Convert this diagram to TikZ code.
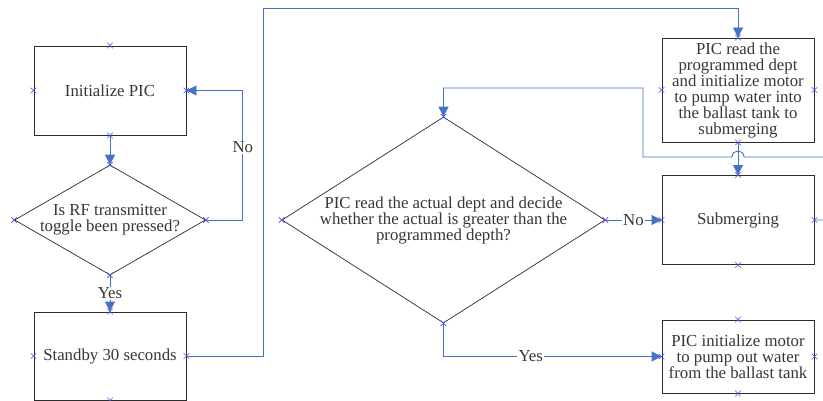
\documentclass[tikz,border=0pt]{standalone}
\usepackage{fontspec}
\setmainfont{Liberation Serif}
\usetikzlibrary{shapes.geometric, shapes.misc, arrows.meta, calc}
\definecolor{linkblue}{RGB}{68,114,196}
\definecolor{markblue}{RGB}{80,80,235}
\definecolor{boxgray}{RGB}{45,45,45}
\definecolor{txtgray}{RGB}{55,55,55}

\begin{document}
\begin{tikzpicture}[x=1pt, y=-1pt,
    font=\fontsize{16.8}{16}\selectfont, text=txtgray,
    box/.style={draw=boxgray, line width=0.9pt, rectangle, minimum width=152pt, align=center, inner sep=0pt},
    decision/.style={draw=boxgray, line width=0.7pt, diamond, inner sep=0pt},
    link/.style={draw=linkblue, line width=0.9pt, -{Triangle[length=10pt,width=10pt]}},
    cpoint/.style={draw=markblue, cross out, minimum size=5pt, inner sep=0pt, line width=0.6pt},
    lbl/.style={fill=white, inner sep=1pt}]
    \clip (0,0) rectangle (823,401);
    \fill[white] (0,0) rectangle (823,401);

    \node[box, minimum height=89pt] (init) at (110,90.5) {Initialize PIC};
    \node[decision, minimum width=191pt, minimum height=110pt,
          label={[align=center]center:Is RF transmitter\\toggle been pressed?}] (rfq) at (110,220) {};
    \node[box, minimum height=88pt] (standby) at (110,356) {Standby 30 seconds};

    \node[box, minimum height=104pt] (pumpin) at (738,90) {PIC read the\\programmed dept\\and initialize motor\\to pump water into\\the ballast tank to\\submerging};
    \node[box, minimum height=89pt] (subm) at (738,220) {Submerging};
    \node[box, minimum height=73pt] (pumpout) at (738,356.5) {PIC initialize motor\\to pump out water\\from the ballast tank};
    \node[decision, minimum width=323pt, minimum height=206pt,
          label={[align=center]center:PIC read the actual dept and decide\\whether the actual is greater than the\\programmed depth?}] (decide) at (443.5,220) {};

    \draw[link] (init.south) -- (rfq.north);
    \draw[link] (rfq.south) -- node[lbl] {Yes} (standby.north);
    \draw[link] (rfq.east) -- ++(37,0) |- node[lbl, pos=0.28] {No} (init.east);
    \draw[link] (standby.east) -- ++(77,0) |- ($(pumpin.north)+(0,-29)$) -- (pumpin.north);
    \draw[link] (pumpin.south) -- (subm.north);
    \draw[link] (decide.east) -- node[lbl] {No} (subm.west);
    \draw[link] (decide.south) |- node[lbl, pos=0.7] {Yes} (pumpout.west);
    \draw[link] (subm.east) -- ++(20,0) |- (744,157) .. controls (744,149) and (732,149) .. (732,157)
        -| (643,88) -| (decide.north);

    \foreach \n in {init,rfq,standby,pumpin,subm,pumpout,decide} {
      \foreach \a in {north,south,east,west} {
        \node[cpoint] (\n-\a-x) at (\n.\a) {};
      }
    }
\end{tikzpicture}
\end{document}
